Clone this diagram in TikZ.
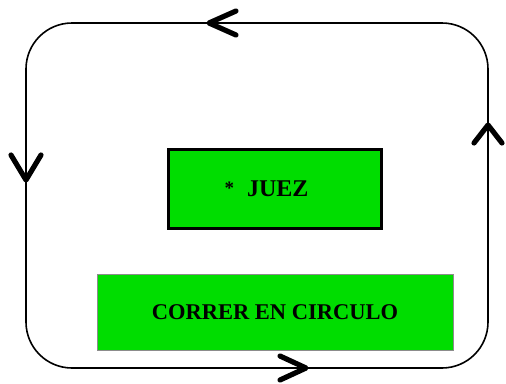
\documentclass[tikz,border=0pt]{standalone}
\usepackage{fontspec}
\setmainfont{Liberation Serif}
\definecolor{boxgreen}{RGB}{0,221,0}
\tikzset{
  loopline/.style={line width=1.6pt, rounded corners=46pt},
  chevron/.style={line width=5.2pt, line cap=round, line join=round},
  judgebox/.style={draw=black, line width=2.8pt, fill=boxgreen, text width=213pt, align=left, minimum height=79pt, inner sep=0pt, font=\bfseries\fontsize{24}{28}\selectfont},
  runbox/.style={draw=black!45, line width=0.9pt, fill=boxgreen, minimum width=356pt, minimum height=76pt, inner sep=0pt, font=\bfseries\fontsize{22.5}{27}\selectfont}
}
\begin{document}
\begin{tikzpicture}[x=1pt,y=-1pt]
\useasboundingbox (0,0) rectangle (506,383);
% loop
\coordinate (tl) at (26,23);
\coordinate (tr) at (488,23);
\coordinate (br) at (488,368);
\coordinate (bl) at (26,368);
\draw[loopline] (tl) -- (tr) -- (br) -- (bl) -- cycle;
% chevrons
\draw[chevron] (236,11) -- (209,23) -- (236,35);
\draw[chevron] (11,155) -- (26,180) -- (41,155);
\draw[chevron] (474,143) -- (488,125) -- (502,143);
\draw[chevron] (280,356) -- (306,368) -- (280,380);
% boxes
\node[judgebox] (juez) at (275,189) {\hspace*{56pt}\raisebox{2pt}{\fontsize{19}{20}\selectfont *}\hspace{13pt}JUEZ};
\node[runbox] (correr) at (275,312) {CORRER EN CIRCULO};
\end{tikzpicture}
\end{document}
